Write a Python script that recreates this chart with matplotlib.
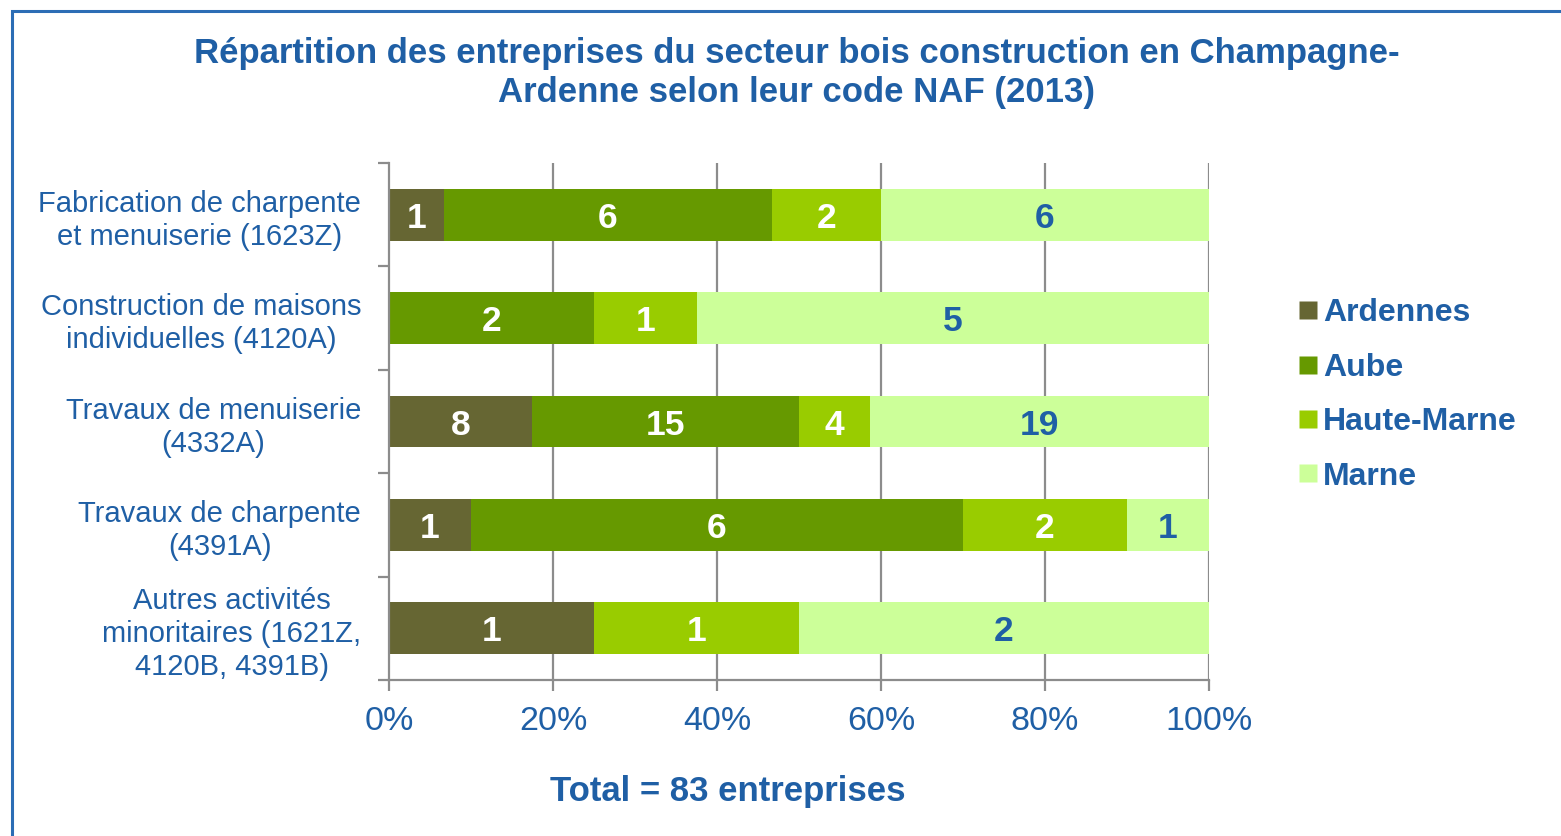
import matplotlib
matplotlib.use("Agg")
import matplotlib.pyplot as plt
from matplotlib.patches import Rectangle
from matplotlib.lines import Line2D
import numpy as np

plt.rcParams['font.family'] = ['Liberation Sans', 'DejaVu Sans']

# Data: number of firms per NAF code and department
categories = [
    "Fabrication de charpente\net menuiserie (1623Z)",
    "Construction de maisons\nindividuelles (4120A)",
    "Travaux de menuiserie\n(4332A)",
    "Travaux de charpente\n(4391A)",
    "Autres activités\nminoritaires (1621Z,\n4120B, 4391B)",
]
departments = ["Ardennes", "Aube", "Haute-Marne", "Marne"]
ardennes = [1, 0, 8, 1, 1]
aube = [6, 2, 15, 6, 0]
haute_marne = [2, 1, 4, 2, 1]
marne = [6, 5, 19, 1, 2]
xtick_labels = ["0%", "20%", "40%", "60%", "80%", "100%"]
total_label = "Total = 83 entreprises"

colors = ["#666633", "#669900", "#99CC00", "#CCFF99"]
label_colors = ["white", "white", "white", "#1F5FA5"]
blue = "#1F5FA5"
grey = "#8C8C8C"

counts = np.array([ardennes, aube, haute_marne, marne], dtype=float)
totals = counts.sum(axis=0)
shares = counts / totals * 100

fig = plt.figure(figsize=(15.61, 8.36), dpi=100)
ax = fig.add_axes([389 / 1561, 1 - 680 / 836, 820 / 1561, 517 / 836])

y = np.arange(len(categories))
left = np.zeros(len(categories))
for i, dep in enumerate(departments):
    ax.barh(y, shares[i], left=left, height=0.5, color=colors[i],
            edgecolor="none", zorder=2)
    for j in range(len(categories)):
        if counts[i, j] > 0:
            ax.text(left[j] + shares[i, j] / 2, y[j], f"{int(counts[i, j])}",
                    ha="center", va="center_baseline", fontsize=25.5,
                    fontweight="bold", color=label_colors[i], zorder=3)
    left = left + shares[i]

ax.set_xlim(0, 100)
ax.set_ylim(len(categories) - 0.5, -0.5)

# vertical gridlines behind the bars
for xv in [20, 40, 60, 80, 100]:
    ax.axvline(xv, color=grey, lw=1.6, zorder=1)

ax.set_xticks([0, 20, 40, 60, 80, 100])
ax.set_xticklabels(xtick_labels)
ax.tick_params(axis="x", colors=grey, length=8, width=1.6, pad=11,
               labelsize=24.5, labelcolor=blue)

ax.set_yticks(y)
ax.set_yticklabels(categories, multialignment="center", linespacing=1.24)
ax.tick_params(axis="y", length=0, pad=20, labelsize=21, labelcolor=blue)
ax.set_yticks(np.arange(-0.5, len(categories)), minor=True)
ax.tick_params(axis="y", which="minor", length=8, width=1.6, colors=grey)

for side in ["top", "right"]:
    ax.spines[side].set_visible(False)
for side in ["left", "bottom"]:
    ax.spines[side].set_color(grey)
    ax.spines[side].set_linewidth(1.6)

# Legend
handles = [Line2D([0], [0], marker="s", linestyle="none", markersize=12.5,
                  markerfacecolor=c, markeredgecolor="none") for c in colors]
leg = fig.legend(handles, departments, loc="center left",
                 bbox_to_anchor=(1299 / 1561, 1 - 395 / 836), frameon=False,
                 borderpad=0, borderaxespad=0,
                 handlelength=0.55, handletextpad=0.2, labelspacing=0.765,
                 prop={"size": 23, "weight": "bold"})
for t in leg.get_texts():
    t.set_color(blue)

fig.text(797 / 1561, 1 - 73 / 836,
         "Répartition des entreprises du secteur bois construction en Champagne-\n"
         "Ardenne selon leur code NAF (2013)",
         ha="center", va="center", fontsize=25, fontweight="bold",
         color=blue, linespacing=1.22)

fig.text(728 / 1561, 1 - 791 / 836, total_label, ha="center", va="center",
         fontsize=25, fontweight="bold", color=blue)

# Outer frame
fig.patches.append(Rectangle((12 / 1561, -0.2), 2.0, 0.2 + 1 - 11 / 836,
                             transform=fig.transFigure, fill=False,
                             edgecolor="#2C6DB5", linewidth=2.2))

fig.savefig("out.png", dpi=100)
